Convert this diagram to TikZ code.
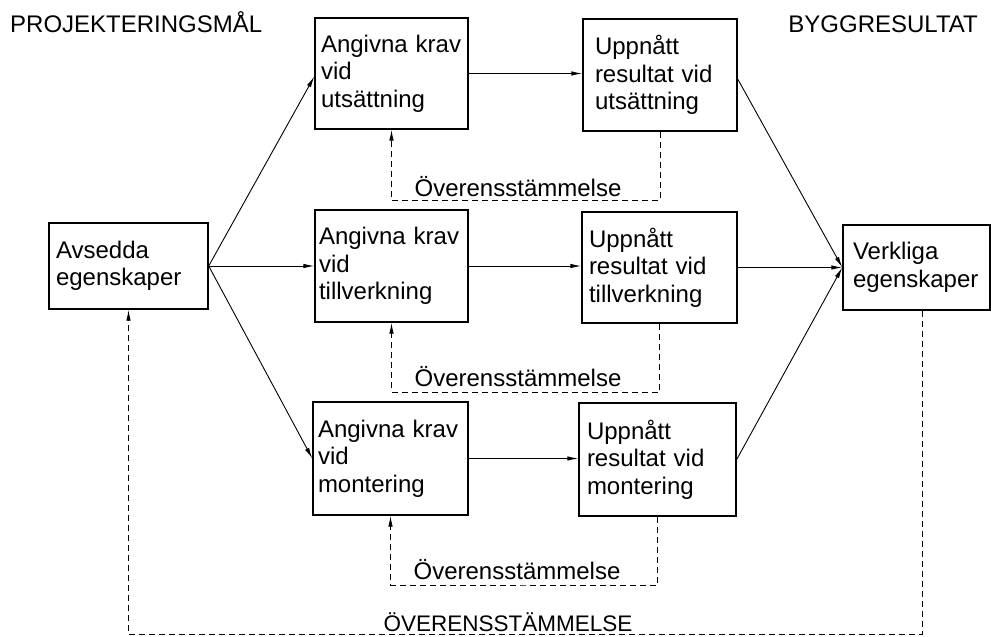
\documentclass[tikz,border=0pt]{standalone}
\usepackage{fontspec}
\setmainfont{Liberation Sans}
\usetikzlibrary{arrows.meta}
\begin{document}
\begin{tikzpicture}[x=1pt,y=-1pt,
  box/.style={draw, line width=1.4pt, rectangle, align=left,
    font=\fontsize{24}{27.5}\selectfont, inner ysep=0pt},
  arr/.style={line width=0.9pt, -{Latex[length=11pt,width=4.5pt]}},
  fb/.style={arr, dash pattern=on 6pt off 4pt},
  lbl/.style={font=\fontsize{24}{27.5}\selectfont, inner sep=0pt},
  biglbl/.style={font=\fontsize{22.5}{26}\selectfont, inner sep=0pt}]
\useasboundingbox (0,0) rectangle (991,637);

% headings
\node[lbl, anchor=base west] (h1) at (10,32) {PROJEKTERINGSMÅL};
\node[lbl, anchor=base east] (h2) at (978,32) {BYGGRESULTAT};

% boxes
\node[box, minimum width=159pt, minimum height=86pt, inner xsep=7pt, text width=145pt]
  (av) at (128.5,266) {Avsedda\\egenskaper};
\node[box, minimum width=153pt, minimum height=111pt, inner xsep=6pt, text width=141pt]
  (a1) at (391.5,73.5) {Angivna krav\\vid\\utsättning};
\node[box, minimum width=154pt, minimum height=112pt, inner xsep=12pt, text width=130pt]
  (u1) at (660,75) {Uppnått\\resultat vid\\utsättning};
\node[box, minimum width=153pt, minimum height=112pt, inner xsep=4pt, text width=145pt]
  (a2) at (391.5,266) {Angivna krav\\vid\\tillverkning};
\node[box, minimum width=155pt, minimum height=111pt, inner xsep=7pt, text width=141pt]
  (u2) at (659.5,267.5) {Uppnått\\resultat vid\\tillverkning};
\node[box, minimum width=155pt, minimum height=113pt, inner xsep=5pt, text width=145pt]
  (a3) at (390.5,458.5) {Angivna krav\\vid\\montering};
\node[box, minimum width=157pt, minimum height=113pt, inner xsep=8pt, text width=141pt]
  (u3) at (657.5,459.5) {Uppnått\\resultat vid\\montering};
\node[box, minimum width=147pt, minimum height=85pt, inner xsep=10pt, text width=127pt]
  (vk) at (916.5,267.5) {Verkliga\\egenskaper};

% forward arrows
\draw[arr] (av.east) -- ([yshift=-3pt]a1.west);
\draw[arr] (av.east) -- (a2.west);
\draw[arr] (av.east) -- (a3.west);
\draw[arr] (a1.east) -- (a1.east -| u1.west);
\draw[arr] (a2.east) -- (a2.east -| u2.west);
\draw[arr] (a3.east) -- (a3.east -| u3.west);
\draw[arr] ([yshift=-4pt]u1.east) -- (vk.west);
\draw[arr] (u2.east) -- (vk.west);
\draw[arr] (u3.east) -- (vk.west);

% feedback loops
\coordinate (k1) at (520,200);
\coordinate (k2) at (520,392);
\coordinate (k3) at (520,585);
\coordinate (kb) at (922,634);
\draw[fb] (u1.south) |- (k1) -| (a1.south);
\draw[fb] (u2.south) |- (k2) -| (a2.south);
\draw[fb] (u3.south) |- (k3) -| (a3.south);
\draw[fb] (kb |- vk.south) -- (kb) -| (av.south);

\node[lbl, anchor=base] (t1) at (518,196) {Överensstämmelse};
\node[lbl, anchor=base] (t2) at (518,386) {Överensstämmelse};
\node[lbl, anchor=base] (t3) at (517,579) {Överensstämmelse};
\node[biglbl, anchor=base] (t4) at (508,631) {ÖVERENSSTÄMMELSE};
\end{tikzpicture}
\end{document}
